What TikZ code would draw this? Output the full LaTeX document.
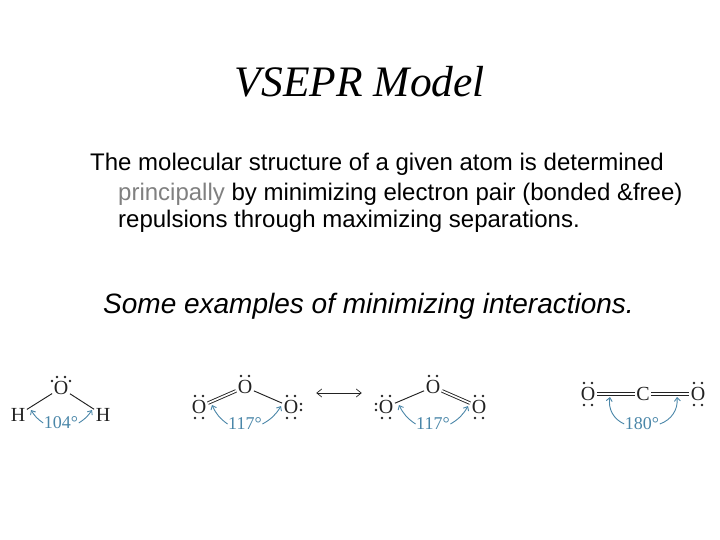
\documentclass[tikz,border=0pt]{standalone}
\usepackage{fontspec}
\setmainfont{Liberation Sans}
\newfontfamily\serifface{Liberation Serif}
\usetikzlibrary{arrows.meta}
\definecolor{anglec}{HTML}{4A86A8}
\definecolor{bondc}{HTML}{222222}
\definecolor{greyword}{HTML}{808080}
\newcommand{\pairup}[1]{\fill[bondc] ([xshift=-4pt,yshift=11pt]#1.center) circle (1.35pt) ([xshift=4pt,yshift=11pt]#1.center) circle (1.35pt);}
\newcommand{\pairdown}[1]{\fill[bondc] ([xshift=-4pt,yshift=-11pt]#1.center) circle (1.35pt) ([xshift=4pt,yshift=-11pt]#1.center) circle (1.35pt);}
\newcommand{\pairleft}[1]{\fill[bondc] ([xshift=-10pt,yshift=3pt]#1.center) circle (1.35pt) ([xshift=-10pt,yshift=-3pt]#1.center) circle (1.35pt);}
\newcommand{\pairright}[1]{\fill[bondc] ([xshift=10pt,yshift=3pt]#1.center) circle (1.35pt) ([xshift=10pt,yshift=-3pt]#1.center) circle (1.35pt);}
\newcommand{\sidedots}[1]{\fill[bondc] ([xshift=-9pt,yshift=7pt]#1.center) circle (1.35pt) ([xshift=9pt,yshift=7pt]#1.center) circle (1.35pt);}
\newcommand{\twobonds}[2]{\draw[bond] ([yshift=1.4pt]#1.east) -- ([yshift=1.4pt]#2.west); \draw[bond] ([yshift=-1.4pt]#1.east) -- ([yshift=-1.4pt]#2.west);}
\tikzset{
  x=1pt,y=-1pt,
  atom/.style={font=\serifface\fontsize{20}{20}\selectfont,text=bondc,inner sep=1.5pt},
  anglelabel/.style={font=\serifface\fontsize{18}{18}\selectfont,text=anglec,inner sep=0.5pt},
  bond/.style={draw=bondc,line width=0.95pt},
  dbond/.style={draw=bondc,line width=0.9pt,double=white,double distance=1.7pt},
  anglearrow/.style={draw=anglec,line width=0.9pt,-{Straight Barb[length=3.5pt,width=6pt]}},
  txt/.style={anchor=base west,inner sep=0pt,font=\fontsize{24}{28}\selectfont},
}
\begin{document}
\begin{tikzpicture}
\useasboundingbox (0,0) rectangle (720,540);
\node[anchor=base,inner sep=0pt,font=\serifface\itshape\fontsize{43.5}{45}\selectfont] (title) at (360,97) {VSEPR Model};
\node[txt] (l1) at (90,171) {The molecular structure of a given atom is determined};
\node[txt] (l2) at (118,201) {\textcolor{greyword}{principally} by minimizing electron pair (bonded \&free)};
\node[txt] (l3) at (118,228) {repulsions through maximizing separations.};
\node[txt,font=\itshape\fontsize{28}{32}\selectfont] (l4) at (103,313) {Some examples of minimizing interactions.};
% water
\node[atom] (wO) at (61,388) {O};
\node[atom] (wH1) at (18,415) {H};
\node[atom] (wH2) at (103,415) {H};
\node[anglelabel] (wA) at (61,423) {104°};
\draw[bond] (wO) -- (wH1);
\draw[bond] (wO) -- (wH2);
\pairup{wO}\sidedots{wO}
\coordinate (wa1) at (31,410);
\coordinate (wa2) at (92,410);
\draw[anglearrow] (wA.west) to[bend left=12] (wa1);
\draw[anglearrow] (wA.east) to[bend right=12] (wa2);
% ozone 1
\node[atom] (aT) at (245,387) {O};
\node[atom] (aL) at (199,407) {O};
\node[atom] (aR) at (291,407) {O};
\node[anglelabel] (aA) at (245,424) {117°};
\draw[dbond] (aL) -- (aT);
\draw[bond] (aT) -- (aR);
\pairup{aT}\pairup{aL}\pairdown{aL}\pairup{aR}\pairdown{aR}\pairright{aR}
\coordinate (aa1) at (212,405);
\coordinate (aa2) at (281,406);
\draw[anglearrow] (aA.west) to[bend left=15] (aa1);
\draw[anglearrow] (aA.east) to[bend right=15] (aa2);
% resonance arrow
\node[inner sep=0pt,minimum size=0pt] (rs) at (316,393) {};
\node[inner sep=0pt,minimum size=0pt] (re) at (362,393) {};
\draw[draw=bondc,line width=0.7pt,{Straight Barb[length=5pt,width=8pt]}-{Straight Barb[length=5pt,width=8pt]}] (rs) -- (re);
% ozone 2
\node[atom] (bT) at (433,387) {O};
\node[atom] (bL) at (386,407) {O};
\node[atom] (bR) at (479,407) {O};
\node[anglelabel] (bA) at (433,424) {117°};
\draw[bond] (bT) -- (bL);
\draw[dbond] (bT) -- (bR);
\pairup{bT}\pairup{bL}\pairdown{bL}\pairleft{bL}\pairup{bR}\pairdown{bR}
\coordinate (ba1) at (399,405);
\coordinate (ba2) at (468,406);
\draw[anglearrow] (bA.west) to[bend left=15] (ba1);
\draw[anglearrow] (bA.east) to[bend right=15] (ba2);
% carbon dioxide
\node[atom] (cC) at (643,394) {C};
\node[atom] (cL) at (588,394) {O};
\node[atom] (cR) at (698,394) {O};
\node[anglelabel] (cA) at (642,424) {180°};
\twobonds{cL}{cC}
\twobonds{cC}{cR}
\pairup{cL}\pairdown{cL}\pairup{cR}\pairdown{cR}
\coordinate (ca1) at (610,397);
\coordinate (ca2) at (677,397);
\draw[anglearrow] (cA.west) to[bend left=38] (ca1);
\draw[anglearrow] (cA.east) to[bend right=38] (ca2);
\end{tikzpicture}
\end{document}
